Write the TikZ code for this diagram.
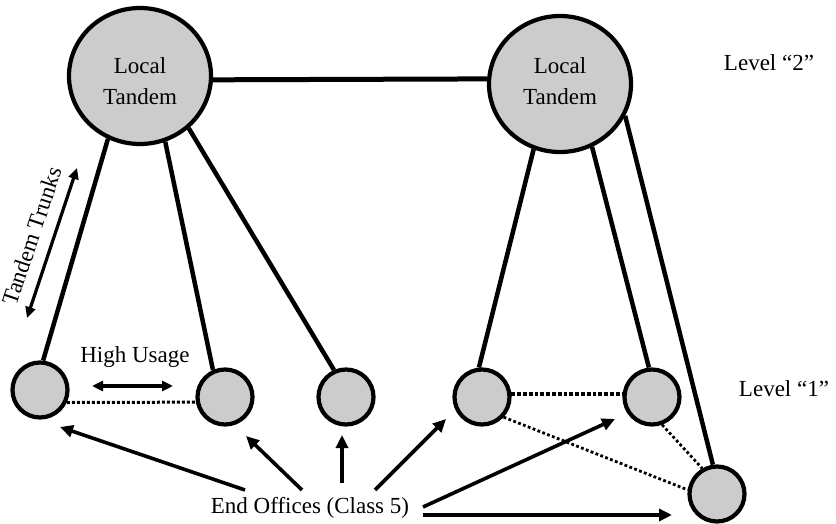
\documentclass[tikz,border=0pt]{standalone}
\usepackage{fontspec}
\setmainfont{Liberation Serif}
\usetikzlibrary{arrows.meta,shapes.geometric}
\begin{document}
\begin{tikzpicture}[x=1pt,y=-1pt,
  lbl/.style={font=\fontsize{23}{31}\selectfont, inner sep=0pt, align=center},
  tandem/.style={ellipse, draw, line width=4.2pt, fill=black!20,
    minimum width=142pt, minimum height=136pt, inner sep=0pt},
  office/.style={circle, draw, line width=4.2pt, fill=black!20,
    minimum size=55pt, inner sep=0pt},
  trunk/.style={line width=4.5pt},
  maintrunk/.style={line width=5pt},
  hiuse/.style={line width=3pt, dash pattern=on 3pt off 2pt},
  hiuseheavy/.style={line width=4pt, dash pattern=on 3.8pt off 2pt},
  alt/.style={line width=2.8pt, dash pattern=on 2.8pt off 2.4pt},
  ptr/.style={line width=3.6pt, -{Triangle[length=13pt,width=12pt]}},
  dbl/.style={line width=3.2pt, {Triangle[length=11pt,width=10pt]}-{Triangle[length=11pt,width=10pt]}}
]
\useasboundingbox (0,0) rectangle (836,524);

% tandem switches (level 2)
\node[tandem] (lt) at (140,76) {};
\node[tandem] (rt) at (560,84) {};
\node[lbl] (ltl) at (140,81) {Local\\Tandem};
\node[lbl] (rtl) at (560,81) {Local\\Tandem};

% end offices (level 1)
\node[office] (a) at (40,390) {};
\node[office] (b) at (225,397) {};
\node[office] (c) at (346,397) {};
\node[office] (d) at (482,397) {};
\node[office] (e) at (652,397) {};
\node[office] (f) at (717,494) {};

% trunks
\draw[maintrunk] (lt.357.6) -- (rt.176);
\draw[trunk] (lt.243) -- (a.84);
\draw[trunk] (lt.291) -- (b.114);
\draw[trunk] (lt.313) -- (c.114);
\draw[trunk] (rt.248) -- (d.96);
\draw[trunk] (rt.297.6) -- (e.96);
\draw[trunk] (rt.334.5) -- (f.98);

% direct office-to-office trunks
\draw[hiuse] (a.335) -- (b.190);
\draw[hiuseheavy] (d.6) -- (e.174);
\draw[alt] (d.317) -- (f.172);
\draw[alt] (e.290) -- (f.120);

% labels
\node[lbl] (lv2) at (769,63) {Level “2”};
\node[lbl] (lv1) at (784,389) {Level “1”};
\node[lbl] (hul) at (135,357) {High Usage};
\node[lbl, rotate=71.6] (ttl) at (32,236) {Tandem Trunks};
\node[lbl] (eo) at (310,508) {End Offices (Class 5)};

\coordinate (hu1) at (92,386);
\coordinate (hu2) at (173,386);
\draw[dbl] (hu1) -- (hu2);

\coordinate (tt1) at (27,318);
\coordinate (tt2) at (77,168);
\draw[dbl] (tt1) -- (tt2);

% pointers from the end office label
\coordinate (t1) at (245,490);
\coordinate (t2) at (302,490);
\coordinate (t3) at (342,483);
\coordinate (t4) at (375,490);
\coordinate (t5) at (423,507);
\coordinate (t6) at (423,515);
\coordinate (h1) at (60,427);
\coordinate (h2) at (246,436);
\coordinate (h3) at (342,435);
\coordinate (h4) at (446,419);
\coordinate (h5) at (615,419);
\coordinate (h6) at (672,515);
\draw[ptr] (t1) -- (h1);
\draw[ptr] (t2) -- (h2);
\draw[ptr] (t3) -- (h3);
\draw[ptr] (t4) -- (h4);
\draw[ptr] (t5) -- (h5);
\draw[ptr] (t6) -- (h6);
\end{tikzpicture}
\end{document}
